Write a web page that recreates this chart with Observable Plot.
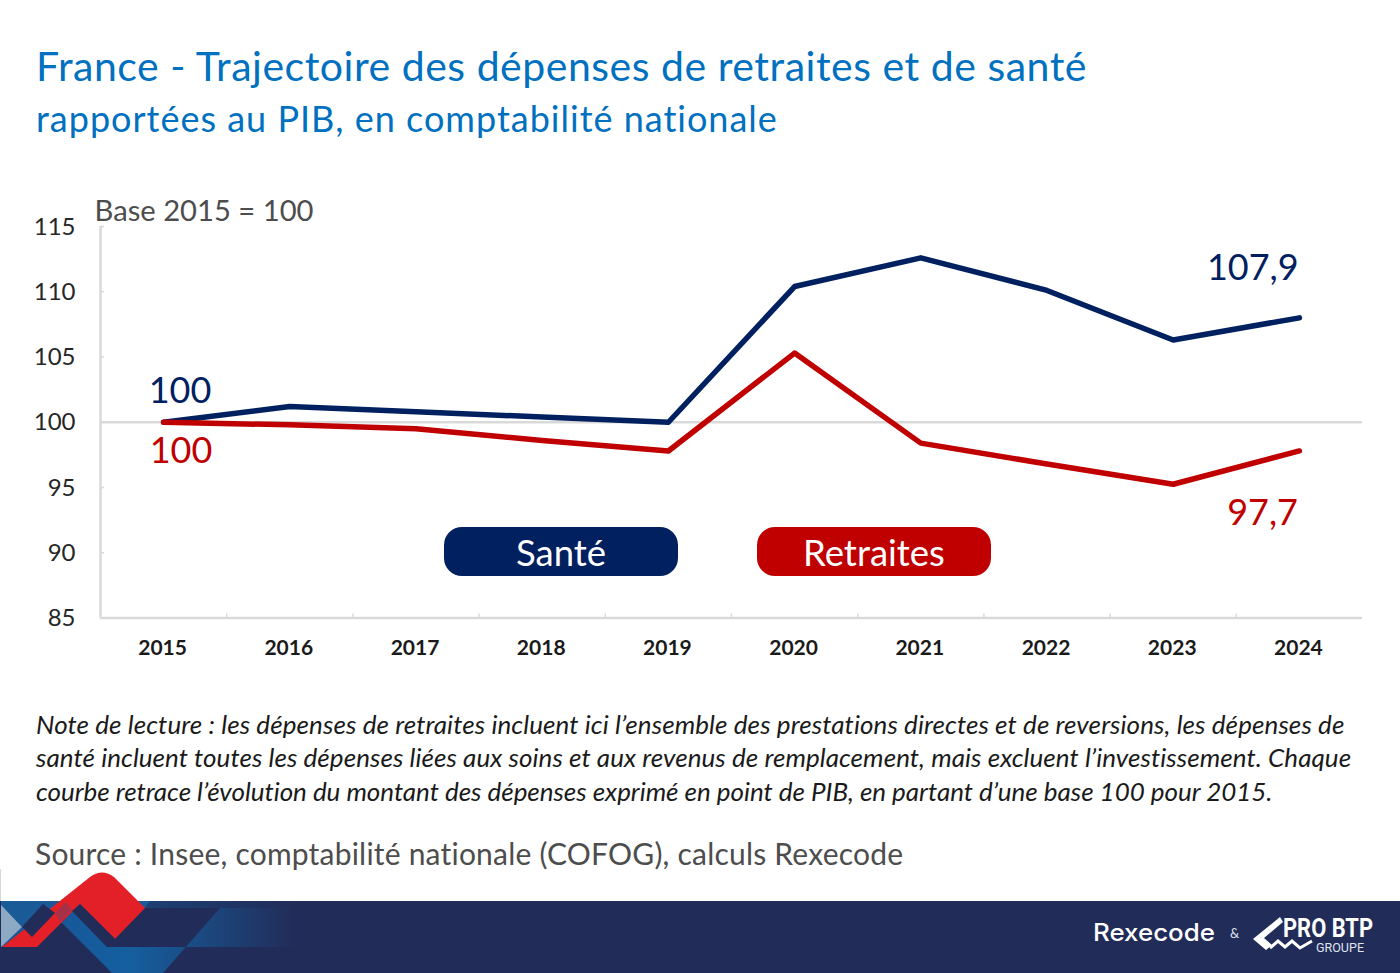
<!DOCTYPE html>
<html lang="fr"><head><meta charset="utf-8">
<script src="https://cdn.jsdelivr.net/npm/d3@7"></script>
<script src="https://cdn.jsdelivr.net/npm/@observablehq/plot@0.6"></script>
<style>
html,body{margin:0;padding:0;background:#fff;width:1400px;height:973px;overflow:hidden}
.abs{position:absolute;white-space:nowrap}
#t1{left:36px;top:41px;font:41px Lato,sans-serif;color:#0070c0;letter-spacing:.52px}
#t2{left:36px;top:95.5px;font:36px Lato,sans-serif;color:#0070c0;letter-spacing:1px}
#chart{left:0;top:180px}
.pill{top:527px;width:234px;height:49px;border-radius:18px;color:#fff;font:36.5px Lato,sans-serif;text-align:center;line-height:50px}
.note{left:36px;font:italic 26px Lato,sans-serif;color:#1a1a1a}
#source{left:35px;top:835px;font:30px Lato,sans-serif;color:#4d4d4d;letter-spacing:.21px}
#footer{left:0;top:0}
</style></head><body>
<div class="abs" id="t1">France - Trajectoire des dépenses de retraites et de santé</div>
<div class="abs" id="t2">rapportées au PIB, en comptabilité nationale</div>
<div class="abs" id="chart"></div>
<div class="abs pill" style="left:444px;background:#002060">Santé</div>
<div class="abs pill" style="left:757px;background:#c00000">Retraites</div>
<div class="abs note" style="top:708px;letter-spacing:.09px">Note de lecture : les dépenses de retraites incluent ici l’ensemble des prestations directes et de reversions, les dépenses de</div>
<div class="abs note" style="top:741px;letter-spacing:.06px">santé incluent toutes les dépenses liées aux soins et aux revenus de remplacement, mais excluent l’investissement. Chaque</div>
<div class="abs note" style="top:775px;letter-spacing:-.03px">courbe retrace l’évolution du montant des dépenses exprimé en point de PIB, en partant d’une base 100 pour 2015.</div>
<div class="abs" id="source">Source : Insee, comptabilité nationale (COFOG), calculs Rexecode</div>
<svg class="abs" id="footer" width="1400" height="973" viewBox="0 0 1400 973">
<defs>
<linearGradient id="band" gradientUnits="userSpaceOnUse" x1="60" x2="295" y1="0" y2="0">
<stop offset="0" stop-color="#17589a"/><stop offset=".3" stop-color="#155f9f"/><stop offset="1" stop-color="#222c58"/>
</linearGradient>
<linearGradient id="strip" gradientUnits="userSpaceOnUse" x1="145" x2="300" y1="0" y2="0">
<stop offset="0" stop-color="#1d3f74"/><stop offset="1" stop-color="#222c58"/>
</linearGradient>
</defs>
<rect x="0" y="869" width="1" height="32" fill="#d8d8d8"/>
<rect x="0" y="901" width="1400" height="72" fill="#222c58"/>
<path d="M150 901 H300 V908 H145 Z" fill="url(#strip)"/>
<path d="M1 901 H150 L145 908 H72 L62 923 L1 947 Z" fill="#1a5a96"/>
<path d="M62 923 L112 973 H163 L220 908 H295 V947 H123 L107 947 L72 910 Z" fill="url(#band)"/>
<path d="M1 905 L22 927 L1 947 Z" fill="#8ea9c4"/>
<path d="M2 947 L90 877 Q102 868 114 877 L145 908 L115 939 L80 904 L37 947 Z" fill="#e32028"/>
<path d="M55 913 L66 902 L72 910 L60 922 Z" fill="#1a5a96" opacity=".3"/>
<path d="M43 904 L22 927 L32 937 L55 913 Z" fill="#222c58"/>
<path d="M80 904 L115 939 L107 947 L72 911 Z" fill="#222c58"/>
<text x="1093" y="941" font-family="Inter,sans-serif" font-size="24" font-weight="500" fill="#fff" textLength="122" lengthAdjust="spacingAndGlyphs">Rexecode</text>
<text x="1230" y="938" font-family="Lato,sans-serif" font-size="13" fill="#dfe3ee">&amp;</text>
<path d="M1280 917 L1253 939 L1266 950 L1272 945 L1264 938 L1283 922 Z" fill="#fff"/>
<path d="M1270 948 L1278 941 L1285 947 L1292 941 L1300 948 L1312 941" fill="none" stroke="#fff" stroke-width="3"/>
<text x="1283" y="937" font-family="Roboto,sans-serif" font-size="25" font-weight="700" fill="#fff" textLength="90" lengthAdjust="spacingAndGlyphs">PRO BTP</text>
<text x="1316" y="952" font-family="Roboto,sans-serif" font-size="12" fill="#dfe3ee" textLength="48" lengthAdjust="spacingAndGlyphs">GROUPE</text>
</svg>
<script>
const years = [2015,2016,2017,2018,2019,2020,2021,2022,2023,2024];
const sante = [100,101.2,100.8,100.4,100,110.4,112.6,110.1,106.3,108];
const retraites = [100,99.8,99.5,98.6,97.8,105.3,98.4,96.8,95.25,97.8];
const yTicks = [85,90,95,100,105,110,115];
const xBoundaries = [2015.5,2016.5,2017.5,2018.5,2019.5,2020.5,2021.5,2022.5,2023.5];
const labelsSante = [{x:2015.15,y:102.5,t:"100"},{x:2023.65,y:111.9,t:"107,9"}];
const labelsRetraites = [{x:2015.15,y:97.9,t:"100"},{x:2023.72,y:93.2,t:"97,7"}];
const navy = "#002060", red = "#c00000", axisGrey = "#d9d9d9";
const santeRows = years.map((year,i)=>({year,value:sante[i]}));
const retraitesRows = years.map((year,i)=>({year,value:retraites[i]}));
const plot = Plot.plot({
  width:1400,height:500,marginLeft:100,marginRight:38,marginTop:46,marginBottom:62.5,
  style:{background:"transparent",fontFamily:"Lato, sans-serif"},
  x:{type:"linear",domain:[2014.5,2024.5],label:null},
  y:{type:"linear",domain:[85,115],label:null},
  marks:[
    Plot.ruleY([100],{stroke:axisGrey,strokeWidth:2.5}),
    Plot.ruleY([85],{stroke:axisGrey,strokeWidth:2.5}),
    Plot.ruleX([2014.5],{stroke:axisGrey,strokeWidth:2.5}),
    Plot.axisY({ticks:yTicks,anchor:"left",tickSize:0,tickPadding:25,tickFormat:d=>String(d),fontSize:24,fill:"#262626",label:null,textAnchor:"end",dy:0.5}),
    Plot.axisY({ticks:yTicks,anchor:"left",tickSize:-4,text:null,stroke:axisGrey,strokeWidth:1.5,label:null}),
    Plot.axisX({ticks:years,anchor:"bottom",tickSize:0,tickPadding:22,tickFormat:d=>String(d),fontSize:21,fontWeight:700,fill:"#1a1a1a",label:null,dx:-1}),
    Plot.axisX({ticks:xBoundaries,anchor:"bottom",tickSize:-4,text:null,stroke:axisGrey,strokeWidth:1.5,label:null}),
    Plot.line(santeRows,{x:"year",y:"value",stroke:navy,strokeWidth:5.5,strokeLinejoin:"round"}),
    Plot.line(retraitesRows,{x:"year",y:"value",stroke:red,strokeWidth:5.5,strokeLinejoin:"round"}),
    Plot.text(labelsSante,{x:"x",y:"y",text:"t",fill:navy,fontSize:36,fontFamily:"Lato, sans-serif",dx:-2.5,dy:2}),
    Plot.text(labelsRetraites,{x:"x",y:"y",text:"t",fill:red,fontSize:36,fontFamily:"Lato, sans-serif",dx:-1.5,dy:2}),
    Plot.text(["Base 2015 = 100"],{frameAnchor:"top-left",dx:-6,dy:-15,fill:"#4d4d4d",fontSize:29.2,fontFamily:"Lato, sans-serif",textAnchor:"start",lineAnchor:"middle"})
  ]
});
document.getElementById("chart").appendChild(plot);
</script>
</body></html>
